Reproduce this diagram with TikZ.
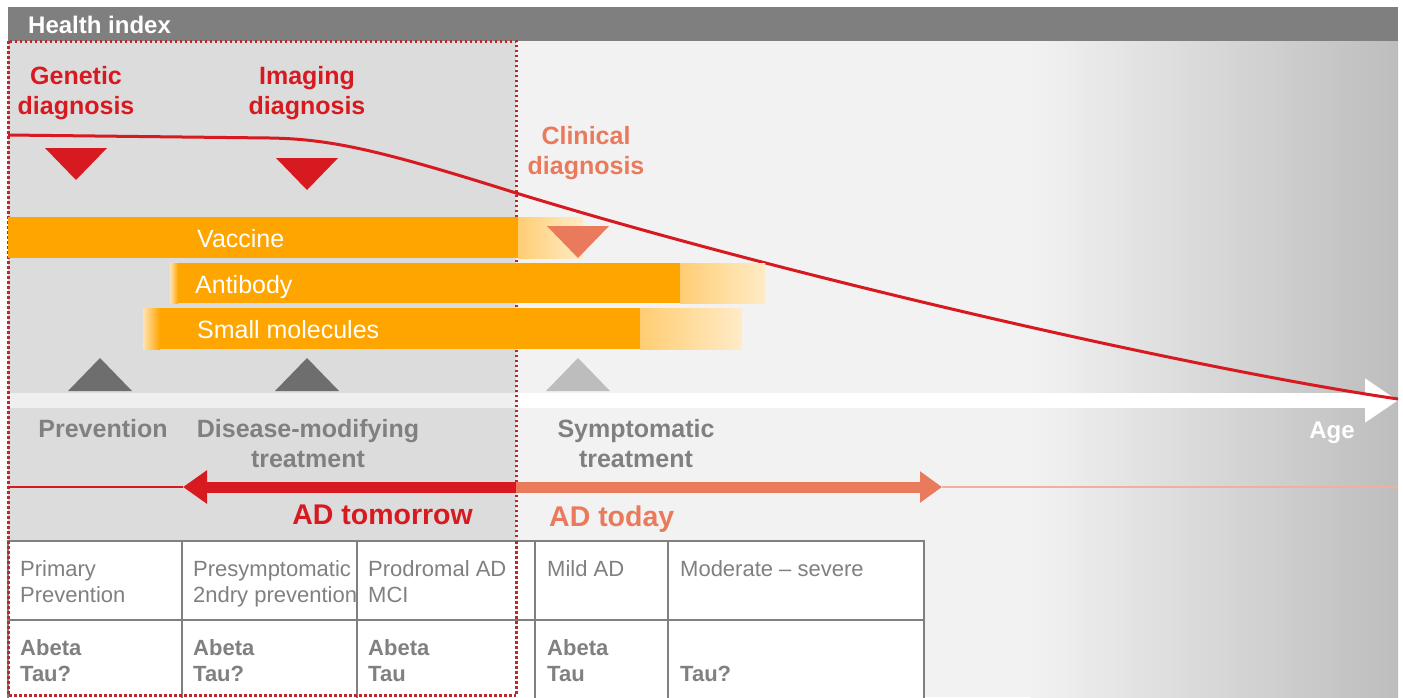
\documentclass[tikz,border=0pt]{standalone}
\usepackage{fontspec}
\setmainfont{Liberation Sans}
\usetikzlibrary{arrows.meta}
\definecolor{hired}{HTML}{D71920}
\definecolor{dotred}{HTML}{C0272D}
\definecolor{salmon}{HTML}{E97A5B}
\definecolor{headgray}{HTML}{7F7F80}
\definecolor{txtgray}{HTML}{808080}
\definecolor{trigray}{HTML}{6E6E6E}
\definecolor{ligray}{HTML}{BDBDBD}
\definecolor{panelgray}{HTML}{DCDCDC}
\definecolor{panellight}{HTML}{F2F2F2}
\definecolor{barorange}{HTML}{FFA500}

\begin{document}
\begin{tikzpicture}[x=1pt,y=-1pt,
        diag/.style={font=\fontsize{25}{30}\selectfont\bfseries, align=center, anchor=north, inner sep=0},
        treat/.style={diag, text=txtgray},
        bartext/.style={font=\fontsize{25}{30}\selectfont, text=white, anchor=base west, inner sep=0},
        adtext/.style={font=\fontsize{28.5}{30}\selectfont\bfseries, inner sep=0},
        cellbox/.style={draw=txtgray, line width=2pt, fill=white},
        celltext/.style={font=\fontsize{22}{26}\selectfont, text=txtgray, align=left, anchor=north west, inner sep=0},
        dotline/.style={dotred, line width=3pt, dash pattern=on 2.5pt off 2.5pt},
        fade/.style={left color=barorange!55!white, right color=barorange!22!white}]
        \useasboundingbox (0,0) rectangle (1403,697);
        \clip (0,0) rectangle (1403,697);

        \fill[headgray] (8,7) rectangle (1398,41);
        \node[font=\fontsize{24}{28}\selectfont\bfseries, text=white, anchor=base west, inner sep=0] (title) at (28,33) {Health index};

        \fill[panellight] (8,41) rectangle (1398,697);
        \shade[left color=panellight, right color=ligray] (1030,41) rectangle (1398,697);
        \fill[panelgray] (8,41) rectangle (516,541);

        \coordinate (agestart) at (8,400.5);
        \coordinate (ageend) at (1398,400.5);
        \draw[white, line width=15pt, -{Triangle[length=33pt,width=42pt]}] (agestart) -- (ageend);
        \fill[panelgray, opacity=0.45] (8,393) rectangle (516,408);
        \node[font=\fontsize{24}{28}\selectfont\bfseries, text=white, anchor=base, inner sep=0] (age) at (1332,438) {Age};

        \draw[dotline] (8,41) rectangle (516,695);

        \draw[hired, line width=3pt] (8,135) -- (270,138) .. controls (330,139) and (380,150) .. (516,193)
            .. controls (800,280) and (1200,370) .. (1398,399);

        \fill[barorange] (8,217) rectangle (518,258);
        \shade[fade] (518,217) rectangle (583,258);
        \shade[left color=barorange!30!white, right color=barorange] (170,263) rectangle (178,303);
        \fill[barorange] (178,263) rectangle (680,303);
        \shade[fade] (680,263) rectangle (765,303);
        \shade[left color=barorange!30!white, right color=barorange] (143,308) rectangle (160,349);
        \fill[barorange] (160,308) rectangle (640,349);
        \shade[fade] (640,308) rectangle (742,349);

        \node[bartext] (vac) at (197,247) {Vaccine};
        \node[bartext] (anti) at (195,293) {Antibody};
        \node[bartext] (small) at (197,338) {Small molecules};

        \foreach \x/\y/\c in {76/148/hired, 307/158/hired, 578/226/salmon}
            \fill[\c] (\x-31,\y) -- (\x+31,\y) -- (\x,\y+32) -- cycle;
        \foreach \x/\c in {100/trigray, 307/trigray, 578/ligray}
            \fill[\c] (\x-32,391) -- (\x+32,391) -- (\x,358) -- cycle;

        \node[diag, text=hired] (gen) at (76,66) {Genetic\\diagnosis};
        \node[diag, text=hired] (img) at (307,66) {Imaging\\diagnosis};
        \node[diag, text=salmon] (clin) at (586,126) {Clinical\\diagnosis};

        \node[treat] (prev) at (103,419) {Prevention};
        \node[treat] (dmt) at (308,419) {Disease-modifying\\treatment};
        \node[treat] (sym) at (636,419) {Symptomatic\\treatment};

        \coordinate (lstart) at (8,487);
        \coordinate (mid) at (516,487);
        \coordinate (redend) at (183,487);
        \coordinate (salend) at (942,487);
        \coordinate (rstop) at (1398,487);
        \draw[hired, line width=1.5pt] (lstart) -- (redend);
        \draw[salmon!60, line width=1.5pt] (salend) -- (rstop);
        \draw[hired, line width=11pt, -{Triangle[length=24pt,width=32pt]}] (mid) -- (redend);
        \draw[salmon, line width=11pt, -{Triangle[length=22pt,width=30pt]}] (mid) -- (salend);

        \node[adtext, text=hired, anchor=base east] (tomorrow) at (473,524) {AD tomorrow};
        \node[adtext, text=salmon, anchor=base west] (today) at (549,526) {AD today};

        \foreach \a/\b in {8/182, 182/357, 357/535, 535/668, 668/924} {
            \draw[cellbox] (\a,541) rectangle (\b,620);
            \draw[cellbox] (\a,620) rectangle (\b,712);
        }
        \draw[dotline] (516,541) -- (516,695);
        \draw[dotline] (8,541) -- (8,695) -- (516,695);

        \foreach \x/\top/\bot [count=\i] in {20/{Primary\\Prevention}/{Abeta\\Tau?},
            193/{Presymptomatic\\2ndry prevention}/{Abeta\\Tau?},
            368/{Prodromal AD\\MCI}/{Abeta\\Tau},
            547/{Mild AD}/{Abeta\\Tau}} {
            \node[celltext] (top\i) at (\x,560) {\top};
            \node[celltext, font=\fontsize{22}{26}\selectfont\bfseries] (bot\i) at (\x,639) {\bot};
        }
        \node[celltext] (top5) at (680,560) {Moderate -- severe};
        \node[celltext, font=\fontsize{22}{26}\selectfont\bfseries, anchor=base west] (bot5) at (680,681) {Tau?};
    \end{tikzpicture}
\end{document}
